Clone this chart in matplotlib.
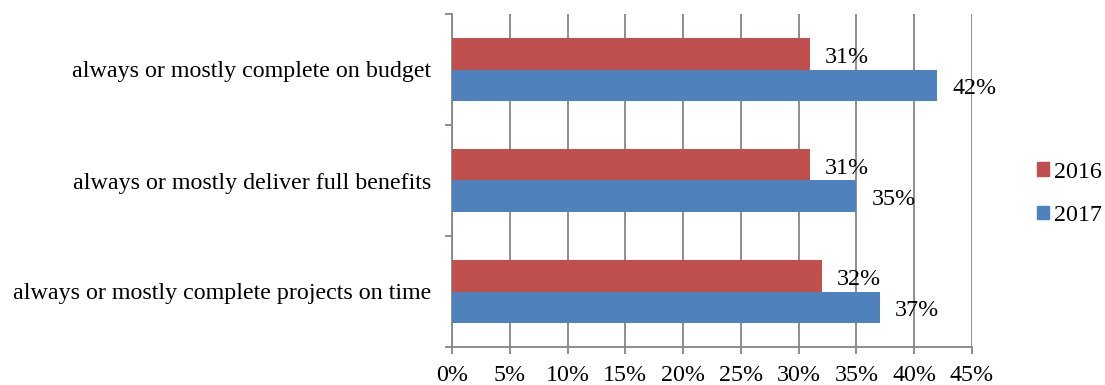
import matplotlib
matplotlib.use("Agg")
import matplotlib.pyplot as plt
import numpy as np
from matplotlib.patches import Patch

categories = ["always or mostly complete projects on time",
              "always or mostly deliver full benefits",
              "always or mostly complete on budget"]
values_2016 = [32, 31, 31]
values_2017 = [37, 35, 42]
series_names = ["2016", "2017"]
xticks = [0, 5, 10, 15, 20, 25, 30, 35, 40, 45]

red = "#C0504D"
blue = "#4F81BD"
grid = "#868686"

plt.rcParams['font.family'] = ['Liberation Serif', 'DejaVu Serif']
fs = 17.3

fig = plt.figure(figsize=(11.05, 3.85), dpi=100)
ax = fig.add_axes([452/1105, 1-347/385, (972-452)/1105, (347-14)/385])

y = np.arange(len(categories))
h = 0.28
ax.barh(y + h/2, values_2016, height=h, color=red, zorder=3)
ax.barh(y - h/2, values_2017, height=h, color=blue, zorder=3)

for yi, v in zip(y, values_2016):
    ax.text(v + 1.3, yi + h/2 - 0.03, f"{v}%", va="center", ha="left", fontsize=fs, color="black")
for yi, v in zip(y, values_2017):
    ax.text(v + 1.3, yi - h/2 - 0.03, f"{v}%", va="center", ha="left", fontsize=fs, color="black")

ax.set_xlim(0, 45)
ax.set_ylim(-0.5, 2.5)
ax.set_xticks(xticks)
ax.set_xticklabels([f"{t}%" for t in xticks], fontsize=fs)
ax.set_yticks(y)
ax.set_yticklabels(categories, fontsize=fs)
ax.tick_params(axis="y", length=0, pad=15)
ax.tick_params(axis="x", length=5, color=grid, width=1.3, pad=8, direction="out")
# group boundary ticks on y axis
ax.set_yticks([-0.5, 0.5, 1.5, 2.5], minor=True)
ax.tick_params(axis="y", which="minor", length=5, color=grid, width=1.3)

ax.grid(axis="x", color=grid, linewidth=1.3, zorder=0)
for s in ["top", "right"]:
    ax.spines[s].set_visible(False)
for s in ["left", "bottom"]:
    ax.spines[s].set_color(grid)
    ax.spines[s].set_linewidth(1.3)

handles = [Patch(color=red, label=series_names[0]), Patch(color=blue, label=series_names[1])]
fig.legend(handles=handles, loc="center left", bbox_to_anchor=(1037/1105, 1-194/385),
           frameon=False, fontsize=fs, handlelength=0.5, handleheight=0.5,
           handletextpad=0.22, labelspacing=0.93, borderaxespad=0, borderpad=0)

fig.savefig("out.png", dpi=100)
